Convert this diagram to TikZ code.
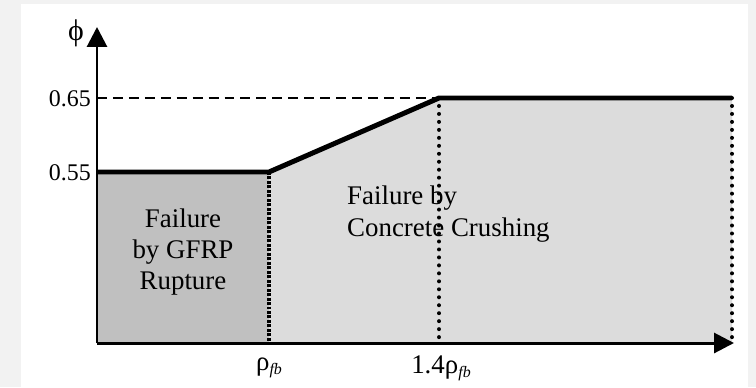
\documentclass[tikz,border=0pt]{standalone}
\usepackage{fontspec}
\setmainfont{Liberation Serif}
\usetikzlibrary{arrows.meta}
\definecolor{bggray}{HTML}{F2F2F2}
\definecolor{darkfill}{HTML}{C0C0C0}
\definecolor{lightfill}{HTML}{DCDCDC}
\tikzset{
  lbl/.style={font=\fontsize{24}{31}\selectfont, inner sep=0pt},
  biglbl/.style={font=\fontsize{27}{31.5}\selectfont, inner sep=0pt},
  axisline/.style={line width=3pt, -{Triangle[length=20pt,width=20pt]}},
  curve/.style={line width=5pt, line join=miter},
  dotline/.style={line width=4pt, line cap=round, dash pattern=on 0pt off 8pt},
  denseline/.style={line width=3.5pt, dash pattern=on 3pt off 1.5pt},
  levelline/.style={line width=3pt, dash pattern=on 10pt off 6pt},
}
\newcommand{\rhofb}{ρ\raisebox{-0.3ex}{\fontsize{16}{16}\selectfont\itshape fb}}
\begin{document}
\begin{tikzpicture}[x=1bp,y=-1bp]
\useasboundingbox (0,0) rectangle (756,387);
\fill[bggray] (0,0) rectangle (756,387);
\fill[white] (21,4) rectangle (748,387);
% key points
\coordinate (O) at (97,343);
\coordinate (ytop) at (97,27);
\coordinate (xend) at (734,343);
\coordinate (a) at (97,172);
\coordinate (b) at (269,172);
\coordinate (bb) at (269,343);
\coordinate (c) at (439,98);
\coordinate (cc) at (439,343);
\coordinate (d) at (732,98);
\coordinate (dd) at (732,343);
\coordinate (l65) at (97,98);
% fills
\fill[darkfill] (O) -- (a) -- (b) -- (bb) -- cycle;
\fill[lightfill] (bb) -- (b) -- (c) -- (d) -- (dd) -- cycle;
% level dashed
\draw[levelline] (l65) -- (c);
% vertical lines
\draw[denseline] (b) -- (bb);
\draw[dotline] (c) -- (cc);
\draw[dotline] (d) -- (dd);
% curve
\draw[curve] (a) -- (b) -- (c) -- (d);
% axes
\draw[axisline] (O) -- (ytop);
\draw[axisline] (O) -- (xend);
% labels
\node[lbl, font=\fontsize{30}{30}\selectfont] (phi) at (76,33) {ϕ};
\node[lbl, anchor=east] (v65) at (91,99) {0.65};
\node[lbl, anchor=east] (v55) at (91,173) {0.55};
\node[biglbl] (rho1) at (269,368) {\rhofb};
\node[biglbl] (rho2) at (441,368) {1.4\rhofb};
\node[biglbl, align=center] (gfrp) at (183,252) {Failure\\by GFRP\\Rupture};
\node[biglbl, align=left, anchor=north west] (conc) at (347,186) {Failure by\\Concrete Crushing};
\end{tikzpicture}
\end{document}
